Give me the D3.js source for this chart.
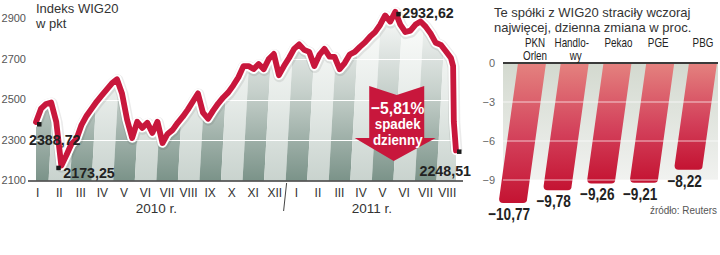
<!DOCTYPE html>
<html>
<head>
<meta charset="utf-8">
<script src="https://cdn.jsdelivr.net/npm/d3@7"></script>
<style>
  body { margin: 0; background: #fff; }
  svg { display: block; font-family: "Liberation Sans", Arial, sans-serif; }
</style>
</head>
<body>
<svg id="chart" width="720" height="255"></svg>
<script>
// WIG20, weekly closes from the first week of 2010, then the last days of the fall
const wigStart = "2010-01-04";
const wigWeekly = [
  2388.72, 2455, 2478, 2485, 2390, 2173.25, 2225, 2280, 2305, 2375,
  2420, 2455, 2490, 2520, 2550, 2580, 2600, 2530, 2400, 2310,
  2390, 2360, 2385, 2335, 2390, 2285, 2330, 2350, 2385, 2415,
  2450, 2490, 2530, 2435, 2405, 2445, 2480, 2510, 2535, 2570,
  2610, 2665, 2665, 2650, 2675, 2650, 2700, 2725, 2620, 2665,
  2705, 2750, 2772, 2745, 2735, 2665, 2720, 2750, 2712, 2710,
  2650, 2680, 2722, 2735, 2760, 2782, 2810, 2833, 2868, 2915,
  2885, 2932.62, 2870, 2833, 2840, 2870, 2885, 2860, 2825, 2780,
  2770, 2738, 2705
];
const wigTail = [["2011-08-04", 2665], ["2011-08-05", 2390], ["2011-08-08", 2248.51]];
const months = ["I","II","III","IV","V","VI","VII","VIII","IX","X","XI","XII",
                "I","II","III","IV","V","VI","VII","VIII"];
const years = [["2010 r.", 0, 11], ["2011 r.", 12, 19]];
const wigTicks = [2100, 2300, 2500, 2700, 2900];
const dailyDrop = -5.81;

// right panel: biggest losers
const companies = [["PKN", "Orlen"], ["Handlo-", "wy"], ["Pekao"], ["PGE"], ["PBG"]];
const changes = [-10.77, -9.78, -9.26, -9.21, -8.22];
const changeTicks = [0, -3, -6, -9];

const pl = d3.formatLocale({decimal: ",", thousands: " ", grouping: [3], currency: ["", " zł"]});
const fmt = pl.format(".2f");

const red = "#c8173c";
const svg = d3.select("#chart");
const defs = svg.append("defs");

// condensed text: squeeze horizontally around the anchor point
function ctext(parent, tx, ty, k) {
  return parent.append("text").attr("transform", `translate(${tx},${ty}) scale(${k},1)`);
}

// ---------- data ----------
const parse = d3.timeParse("%Y-%m-%d");
const t0 = parse(wigStart);
let wig = wigWeekly.map((v, i) => ({d: d3.timeWeek.offset(t0, i), v: v}));
wigTail.forEach(r => wig.push({d: parse(r[0]), v: r[1]}));

// ---------- left chart ----------
const baseY = 180.5;
const x = d3.scaleTime().domain([t0, wig[wig.length - 1].d]).range([36, 456]);
const y = d3.scaleLinear().domain([2100, 2900]).range([baseY, 18.5]);
const xm = d3.scaleBand().domain(d3.range(months.length)).range([27, 458]);

function grad(id, attrs, stops) {
  let g = defs.append("linearGradient").attr("id", id);
  Object.keys(attrs).forEach(k => g.attr(k, attrs[k]));
  stops.forEach(s => g.append("stop").attr("offset", s[0]).attr("stop-color", s[1]));
}
grad("gDark", {gradientUnits: "userSpaceOnUse", x1: 0, x2: 0, y1: 20, y2: baseY},
  [[0, "#f4f6f5"], [0.45, "#c6d0cb"], [1, "#7b9389"]]);
grad("gLight", {gradientUnits: "userSpaceOnUse", x1: 0, x2: 0, y1: 20, y2: baseY},
  [[0, "#fbfcfb"], [0.5, "#e6ebe8"], [1, "#c9d3ce"]]);

const area = d3.area().x(d => x(d.d)).y0(baseY).y1(d => y(d.v));
defs.append("clipPath").attr("id", "areaClip").append("path").attr("d", area(wig));

const gArea = svg.append("g").attr("clip-path", "url(#areaClip)");
const slant = 10;
gArea.selectAll("path.stripe")
  .data(d3.range(months.length))
  .join("path")
  .attr("class", "stripe")
  .attr("fill", i => i % 2 == 0 ? "url(#gDark)" : "url(#gLight)")
  .attr("d", i => {
    let x0 = xm(i), x1 = xm(i) + xm.bandwidth();
    return `M${x0},${baseY + 1}L${x1},${baseY + 1}L${x1 + slant},0L${x0 + slant},0Z`;
  });
gArea.selectAll("line.grid")
  .data(wigTicks.slice(1))
  .join("line")
  .attr("x1", 20).attr("x2", 470)
  .attr("y1", d => Math.round(y(d)) + 0.5).attr("y2", d => Math.round(y(d)) + 0.5)
  .attr("stroke", "#fff").attr("stroke-width", 1);

// y labels
svg.append("g").selectAll("text")
  .data(wigTicks)
  .join("text")
  .attr("x", 26).attr("y", d => y(d))
  .attr("dy", "0.35em").attr("text-anchor", "end")
  .attr("font-size", 11).attr("fill", "#555")
  .text(d => d);

// baseline + month labels
svg.append("line").attr("x1", 28).attr("x2", 463).attr("y1", baseY + 0.5).attr("y2", baseY + 0.5)
  .attr("stroke", "#3a3a3a").attr("stroke-width", 1.6);
svg.append("g").selectAll("text")
  .data(months)
  .join("text")
  .attr("x", (d, i) => xm(i) + xm.bandwidth() / 2)
  .attr("y", 193).attr("dy", "0.35em")
  .attr("text-anchor", "middle").attr("font-size", 12).attr("fill", "#333")
  .text(d => d);
svg.append("g").selectAll("text")
  .data(years)
  .join("text")
  .attr("x", d => (xm(d[1]) + xm(d[2]) + xm.bandwidth()) / 2)
  .attr("y", 208).attr("dy", "0.35em")
  .attr("text-anchor", "middle").attr("font-size", 13.5).attr("fill", "#333")
  .text(d => d[0]);
// year separator
let sepX = xm(12) - 1;
svg.append("line").attr("x1", sepX + 2).attr("x2", sepX - 1).attr("y1", 183).attr("y2", 211)
  .attr("stroke", "#444").attr("stroke-width", 1);

// line with white halo
const line = d3.line().x(d => x(d.d)).y(d => y(d.v));
svg.append("path").attr("d", line(wig)).attr("fill", "none")
  .attr("stroke", "#000").attr("stroke-opacity", 0.08).attr("stroke-width", 12)
  .attr("stroke-linejoin", "round").attr("transform", "translate(0.5,1)");
svg.append("path").attr("d", line(wig)).attr("fill", "none")
  .attr("stroke", "#fff").attr("stroke-width", 9.5)
  .attr("stroke-linejoin", "round").attr("stroke-linecap", "round");
svg.append("path").attr("d", line(wig)).attr("fill", "none")
  .attr("stroke", red).attr("stroke-width", 5.8)
  .attr("stroke-linejoin", "round").attr("stroke-linecap", "round");

// point labels
let iMin = d3.minIndex(wig.slice(0, 20), d => d.v);
let iMax = d3.maxIndex(wig, d => d.v);
const notes = [
  {p: wig[0], mx: 3, my: 2, tx: -7, ty: 18, anchor: "start"},
  {p: wig[iMin], mx: -3, my: 2, tx: 2, ty: 7, anchor: "start"},
  {p: wig[iMax], mx: 3, my: 2, tx: 7, ty: 1, anchor: "start"},
  {p: wig[wig.length - 1], mx: 3, my: 1, tx: 15, ty: 20, anchor: "end"}
];
notes.forEach(n => {
  let px = x(n.p.d), py = y(n.p.v);
  svg.append("rect").attr("x", px + n.mx - 2).attr("y", py + n.my - 2)
    .attr("width", 4.5).attr("height", 4.5).attr("fill", "#1a1a1a");
  ctext(svg, px + n.tx, py + n.ty, 0.92)
    .attr("dy", "0.35em").attr("text-anchor", n.anchor)
    .attr("font-size", 15.5).attr("font-weight", "bold").attr("fill", "#222")
    .text(fmt(n.p.v));
});

// arrow with the daily change
const arrowX = x(parse("2011-05-18"));
const aTop = 86, aNotch = 9, aBox = 27.5, aHead = 39, aNeck = 138, aTip = 161;
svg.append("path").attr("fill", red)
  .attr("d", `M${arrowX - aBox},${aTop}L${arrowX},${aTop + aNotch}L${arrowX + aBox},${aTop}` +
             `L${arrowX + aBox},${aNeck}L${arrowX + aHead},${aNeck}L${arrowX - 3},${aTip}` +
             `L${arrowX - aHead - 3},${aNeck}L${arrowX - aBox},${aNeck}Z`);
const arrowText = [pl.format(".2f")(dailyDrop) + "%", "spadek", "dzienny"];
arrowText.forEach((t, i) => {
  ctext(svg, arrowX + 1, 108 + i * 16, 0.92)
    .attr("dy", "0.35em").attr("text-anchor", "middle")
    .attr("font-size", i == 0 ? 17 : 14.5).attr("font-weight", "bold").attr("fill", "#fff")
    .text(t);
});

// titles
svg.append("text").attr("x", 36).attr("y", 8).attr("dy", "0.35em")
  .attr("font-size", 13).attr("fill", "#333").text("Indeks WIG20");
svg.append("text").attr("x", 36).attr("y", 23).attr("dy", "0.35em")
  .attr("font-size", 13).attr("fill", "#333").text("w pkt");

// ---------- right chart ----------
const yb = d3.scaleLinear().domain([0, -9]).range([63, 180]);
const xb = d3.scalePoint().domain(d3.range(changes.length)).range([532, 703]);
const bw = 28, lean = 0.135, rr = 4;
const bgL = 503, bgR = 718;

grad("gBg", {x1: 0, x2: 0, y1: 0, y2: 1}, [[0, "#d3d9cf"], [1, "#f1f2f0"]]);
grad("gBar", {x1: 0, x2: 0, y1: 0, y2: 1}, [[0, "#e4827f"], [0.55, "#d3405a"], [1, "#c41332"]]);

svg.append("rect").attr("x", bgL).attr("y", yb(0)).attr("width", bgR - bgL)
  .attr("height", yb(-9) - yb(0)).attr("fill", "url(#gBg)");

svg.append("g").selectAll("path")
  .data(changes)
  .join("path")
  .attr("fill", "url(#gBar)")
  .attr("d", (v, i) => {
    let y0 = yb(0), y1 = yb(v), h = y1 - y0, cx = xb(i), s = lean * h;
    let l = cx - bw / 2, r = cx + bw / 2;
    return `M${l},${y0}L${r},${y0}L${r - s},${y1 - rr}Q${r - s},${y1} ${r - s - rr},${y1}` +
           `L${l - s + rr},${y1}Q${l - s},${y1} ${l - s},${y1 - rr}Z`;
  });

svg.append("g").selectAll("line")
  .data(changeTicks.slice(1))
  .join("line")
  .attr("x1", bgL).attr("x2", bgR)
  .attr("y1", d => yb(d)).attr("y2", d => yb(d))
  .attr("stroke", "#fff").attr("stroke-opacity", 0.7).attr("stroke-width", 1.2);

svg.append("line").attr("x1", bgL).attr("x2", bgR).attr("y1", yb(0)).attr("y2", yb(0))
  .attr("stroke", "#3a3a3a").attr("stroke-width", 2);

svg.append("g").selectAll("text")
  .data(changeTicks)
  .join("text")
  .attr("x", 495).attr("y", d => yb(d)).attr("dy", "0.35em")
  .attr("text-anchor", "end").attr("font-size", 11).attr("fill", "#666")
  .text(d => d == 0 ? "0" : pl.format("d")(d));

// category labels
const labelShift = [3, -3, 1, -2, 0];
companies.forEach((c, i) => {
  c.forEach((t, j) => {
    ctext(svg, xb(i) + labelShift[i] + (j == 1 && i == 1 ? 4 : 0), 43 + j * 12.5, 0.82)
      .attr("dy", "0.35em").attr("text-anchor", "middle")
      .attr("font-size", 12).attr("fill", "#222")
      .text(t);
  });
});

// value labels
changes.forEach((v, i) => {
  ctext(svg, xb(i) - lean * (yb(v) - yb(0)) - 4, yb(v) + 11, 0.8)
    .attr("dy", "0.35em").attr("text-anchor", "middle")
    .attr("font-size", 17).attr("font-weight", "bold").attr("fill", "#222")
    .text(fmt(v));
});

svg.append("text").attr("x", 494).attr("y", 12).attr("dy", "0.35em")
  .attr("font-size", 13).attr("fill", "#333").text("Te spółki z WIG20 straciły wczoraj");
svg.append("text").attr("x", 494).attr("y", 27).attr("dy", "0.35em")
  .attr("font-size", 13).attr("fill", "#333").text("najwięcej, dzienna zmiana w proc.");
ctext(svg, 717, 210, 0.9)
  .attr("dy", "0.35em").attr("text-anchor", "end")
  .attr("font-size", 11).attr("fill", "#555").text("źródło: Reuters");
</script>
</body>
</html>
